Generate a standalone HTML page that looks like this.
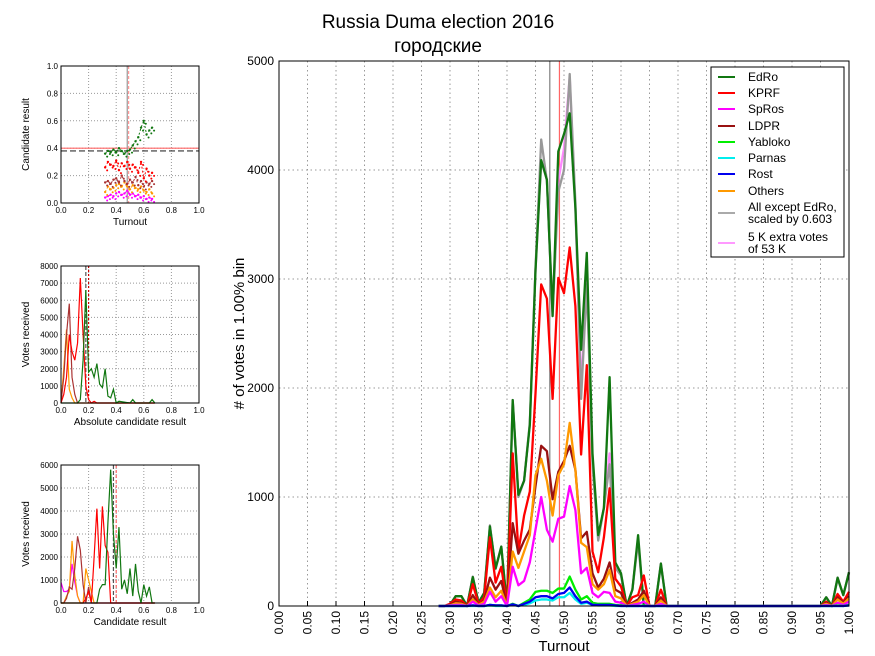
<!DOCTYPE html>
<html><head><meta charset="utf-8">
<style>
html,body{margin:0;padding:0;background:#fff;}
svg{display:block;font-family:"Liberation Sans","DejaVu Sans","Noto Sans CJK SC",sans-serif;}
</style></head>
<body>
<svg id="chart" width="875" height="656" viewBox="0 0 875 656" xmlns="http://www.w3.org/2000/svg">
<text x="438" y="28" font-size="19" text-anchor="middle">Russia Duma election 2016</text>
<text x="438" y="52" font-size="19" text-anchor="middle">городские</text>
<g id="main"></g>
<g id="s1"></g>
<g id="s2"></g>
<g id="s3"></g>
</svg>
<script>
// ---- main chart data ----
const turnout = [0.28,0.29,0.30,0.31,0.32,0.33,0.34,0.35,0.36,0.37,0.38,0.39,0.40,0.41,0.42,0.43,0.44,0.45,0.46,0.47,0.48,0.49,0.50,0.51,0.52,0.53,0.54,0.55,0.56,0.57,0.58,0.59,0.60,0.61,0.62,0.63,0.64,0.65,0.66,0.67,0.68,0.69,0.94,0.95,0.96,0.97,0.98,0.99,1.00];
const edro   = [0,0,10,90,90,0,265,30,120,730,345,545,0,1890,1020,1150,1660,3080,4090,3910,2660,4170,4330,4520,3650,2350,3240,1400,650,900,2100,400,300,0,150,650,0,0,0,390,0,0,0,0,80,0,260,100,310];
const kprf   = [0,0,20,60,50,0,200,20,80,630,215,360,0,1400,500,830,1050,1950,2950,2820,1900,3010,2870,3290,2750,1390,2210,500,310,630,1080,250,180,0,80,100,280,0,0,150,0,0,0,0,40,0,110,40,130];
const spros  = [0,0,5,10,10,0,40,5,20,130,40,90,0,360,190,230,400,700,1000,700,590,800,820,1100,880,300,350,120,80,130,120,40,30,0,10,20,40,0,0,20,0,0,0,0,10,0,30,10,40];
const ldpr   = [0,0,10,40,30,0,100,10,50,260,150,230,0,760,480,600,700,1100,1470,1420,980,1230,1330,1470,1250,620,680,300,170,250,400,150,120,0,30,60,140,0,0,80,0,0,0,0,30,0,80,30,90];
const yabloko= [0,0,0,0,0,0,5,0,0,10,5,5,0,20,0,30,60,130,140,140,120,160,160,270,150,60,90,30,20,20,20,10,5,0,0,0,5,0,0,0,0,0,0,0,0,0,5,0,10];
const parnas = [0,0,0,0,0,0,0,0,0,5,0,0,0,10,0,10,25,50,60,60,50,80,80,120,60,20,30,10,5,5,5,0,0,0,0,0,0,0,0,0,0,0,0,0,0,0,0,0,5];
const rost   = [0,0,0,0,0,0,5,0,0,10,5,5,0,15,0,20,40,80,90,90,70,110,120,170,90,30,40,10,10,10,10,5,0,0,0,0,0,0,0,0,0,0,0,0,0,0,0,0,5];
const others = [0,0,5,25,20,0,60,10,40,170,80,140,0,500,350,500,650,1200,1350,1150,830,1200,1300,1680,1250,580,540,200,150,200,330,90,70,0,20,40,100,0,0,50,0,0,0,0,20,0,60,20,70];
const allExcept = [0,0,10,90,90,0,270,30,120,740,340,540,0,1880,1000,1150,1680,3100,4280,3900,2700,3800,4000,4880,3700,1900,2950,1300,600,900,1300,350,280,0,150,600,0,0,0,380,0,0,0,0,80,0,250,100,300];
const extra  = [0,0,10,90,90,0,265,30,120,730,345,545,0,1890,1020,1150,1660,3080,4090,3910,2660,3900,4200,4850,3650,2000,3000,1350,620,900,1400,380,290,0,150,620,0,0,0,390,0,0,0,0,80,0,260,100,310];
const yTicks = [0,1000,2000,3000,4000,5000];
const xTicks = ["0.00","0.05","0.10","0.15","0.20","0.25","0.30","0.35","0.40","0.45","0.50","0.55","0.60","0.65","0.70","0.75","0.80","0.85","0.90","0.95","1.00"];
const vlineGrey = 0.475, vlineRed = 0.492;

// ---- subplot data ----
const s1x = [0.32,0.34,0.36,0.38,0.40,0.42,0.44,0.46,0.48,0.50,0.52,0.54,0.56,0.58,0.60,0.62,0.64,0.66];
const s1Green = [0.36,0.38,0.37,0.39,0.37,0.40,0.38,0.36,0.38,0.39,0.42,0.45,0.48,0.55,0.60,0.50,0.53,0.55];
const s1Red   = [0.26,0.30,0.28,0.27,0.31,0.24,0.29,0.27,0.30,0.25,0.28,0.26,0.22,0.30,0.18,0.25,0.20,0.22];
const s1Brown = [0.15,0.16,0.14,0.17,0.18,0.15,0.20,0.16,0.14,0.17,0.15,0.19,0.13,0.16,0.12,0.15,0.14,0.16];
const s1Orange= [0.08,0.12,0.10,0.11,0.13,0.14,0.12,0.15,0.12,0.10,0.13,0.11,0.10,0.12,0.09,0.08,0.10,0.07];
const s1Mag   = [0.04,0.05,0.06,0.05,0.07,0.08,0.06,0.07,0.09,0.06,0.07,0.05,0.06,0.04,0.05,0.03,0.04,0.03];
const s2x = [0.00,0.02,0.04,0.06,0.08,0.10,0.12,0.14,0.16,0.18,0.20,0.22,0.24,0.26,0.28,0.30,0.32,0.34,0.36,0.38,0.40,0.42,0.50,0.52,0.54,0.64,0.66,0.68];
const s2Green = [0,0,0,0,0,0,0,200,2500,6600,1800,2000,1500,2300,1100,900,2000,400,300,800,0,100,0,200,0,0,200,0];
const s2Red   = [0,500,1500,4000,3000,2500,3500,7300,4000,1000,200,0,100,0,0,0,0,0,0,0,0,0,0,0,0,0,0,0];
const s2Brown = [0,1500,4000,5800,1500,500,0,0,0,0,0,0,0,0,0,0,0,0,0,0,0,0,0,0,0,0,0,0];
const s2Orange= [0,2000,4300,800,300,0,0,0,0,0,0,0,0,0,0,0,0,0,0,0,0,0,0,0,0,0,0,0];
const s3x = [0.00,0.02,0.04,0.06,0.08,0.10,0.12,0.14,0.16,0.18,0.20,0.22,0.24,0.26,0.28,0.30,0.32,0.34,0.36,0.38,0.40,0.42,0.44,0.46,0.48,0.50,0.52,0.54,0.56,0.58,0.60,0.62,0.64,0.66,0.68];
const s3Green = [0,0,0,0,0,0,0,0,0,0,0,0,0,0,600,800,800,3500,5800,3000,1500,3300,600,1000,400,1500,300,1700,500,0,800,300,700,0,0];
const s3Red   = [0,0,0,0,0,0,0,0,0,200,500,0,2000,4100,1500,4200,2500,2200,0,0,0,0,0,0,0,0,0,0,0,0,0,0,0,0,0];
const s3Brown = [0,0,200,700,600,1500,2900,2300,800,0,700,0,0,0,0,0,0,0,0,0,0,0,0,0,0,0,0,0,0,0,0,0,0,0,0];
const s3Orange= [0,0,300,500,2700,1200,300,0,0,1500,1000,500,0,0,0,0,0,0,0,0,0,0,0,0,0,0,0,0,0,0,0,0,0,0,0];
const s3Mag   = [900,500,500,600,1700,900,300,0,0,0,0,0,0,0,0,0,0,0,0,0,0,0,0,0,0,0,0,0,0,0,0,0,0,0,0];

const NS = "http://www.w3.org/2000/svg";
function mk(parent, tag, attrs){ const e=document.createElementNS(NS,tag); for(const k in attrs) e.setAttribute(k,attrs[k]); parent.appendChild(e); return e; }

// ---- main chart ----
const main = document.getElementById('main');
const L=279,R=849,T=61,B=606;
const sx = v => L + v*(R-L);
const sy = v => B - v/5000*(B-T);
mk(main,'rect',{x:L,y:T,width:R-L,height:B-T,fill:'#fff',stroke:'none'});
xTicks.forEach(t=>{
  const x=sx(parseFloat(t));
  const g=mk(main,'line',{x1:x,x2:x,y1:T,y2:B,stroke:'#999','stroke-dasharray':'1.5,3','stroke-width':1});
  
  
  const tk=mk(main,'line',{x1:x,x2:x,y1:B,y2:B-5,stroke:'#000'});
  
  
  const tx=mk(main,'text',{x:0,y:0,'font-size':12,'text-anchor':'end',transform:`translate(${x+4},${B+5}) rotate(-90)`});
  tx.textContent=t;
  
  
});
yTicks.forEach(v=>{
  const y=sy(v);
  const g=mk(main,'line',{x1:L,x2:R,y1:y,y2:y,stroke:'#999','stroke-dasharray':'1.5,3','stroke-width':1});
  
  
  const tx=mk(main,'text',{x:L-5,y:y+4,'font-size':12,'text-anchor':'end'});
  tx.textContent=v;
  
  
});
const vg=mk(main,'line',{x1:sx(vlineGrey),x2:sx(vlineGrey),y1:T,y2:B,stroke:'#999','stroke-width':1.5});


const vr=mk(main,'line',{x1:sx(vlineRed),x2:sx(vlineRed),y1:T,y2:B,stroke:'#f66','stroke-width':1.2});



const series=[
 ['extra-votes-line',extra,'#ff88ff'],
 ['all-except-edro-line',allExcept,'#999999'],
 ['edro-line',edro,'#117711'],
 ['kprf-line',kprf,'#ff0000'],
 ['ldpr-line',ldpr,'#991111'],
 ['others-line',others,'#ff9900'],
 ['spros-line',spros,'#ff00ff'],
 ['yabloko-line',yabloko,'#00ee00'],
 ['parnas-line',parnas,'#00eeee'],
 ['rost-line',rost,'#0000ee']
];
series.forEach(([n,d,c])=>{
  const p=mk(main,'polyline',{points:d.map((v,i)=>sx(turnout[i])+','+sy(v)).join(' '),fill:'none',stroke:c,'stroke-width':2.3,'stroke-linejoin':'round'});
  
  
});
mk(main,'rect',{x:L,y:T,width:R-L,height:B-T,fill:'none',stroke:'#000','stroke-width':1});
const yt=mk(main,'text',{x:0,y:0,'font-size':15,'text-anchor':'middle',transform:`translate(244,${(T+B)/2}) rotate(-90)`});
yt.textContent='# of votes in 1.00% bin';


const xt=mk(main,'text',{x:(L+R)/2,y:651,'font-size':15,'text-anchor':'middle'});
xt.textContent='Turnout';



// legend
const lg=mk(main,'g',{});


mk(lg,'rect',{x:711,y:67,width:133,height:190,fill:'#fff',stroke:'#000','stroke-width':1});
const entries=[['EdRo','#117711',[77]],['KPRF','#ff0000',[93]],['SpRos','#ff00ff',[109]],['LDPR','#991111',[126]],['Yabloko','#00ee00',[142]],['Parnas','#00eeee',[158]],['Rost','#0000ee',[174]],['Others','#ff9900',[191]],['All except EdRo,|scaled by 0.603','#aaaaaa',[213]],['5 K extra votes| of 53 K','#ff99ff',[243]]];
entries.forEach(([t,c,[y]])=>{
  const g=mk(lg,'g',{});
  
  
  const lines=t.split('|');
  const top = lines.length>1 ? y-6 : y;
  mk(g,'line',{x1:718,x2:735,y1:y,y2:y,stroke:c,'stroke-width':2});
  lines.forEach((s,i)=>{ const tx=mk(g,'text',{x:748,y:top+4+i*12,'font-size':12}); tx.textContent=s; });
});

// ---- subplots ----
function subplot(id, box, xmax, ymax, yticks, ylabel, xlabel, lines, vlines, hlines, dots){
  const g=document.getElementById(id);
  const [l,t,r,b]=box;
  const fx=v=>l+v/xmax*(r-l), fy=v=>b-v/ymax*(b-t);
  mk(g,'rect',{x:l,y:t,width:r-l,height:b-t,fill:'#fff'});
  [0,0.2,0.4,0.6,0.8,1.0].forEach(v=>{
    mk(g,'line',{x1:fx(v),x2:fx(v),y1:t,y2:b,stroke:'#999','stroke-dasharray':'1,2'});
    const tx=mk(g,'text',{x:fx(v),y:b+10,'font-size':8,'text-anchor':'middle'}); tx.textContent=v.toFixed(1);
    
    
  });
  yticks.forEach(v=>{
    mk(g,'line',{x1:l,x2:r,y1:fy(v),y2:fy(v),stroke:'#999','stroke-dasharray':'1,2'});
    const tx=mk(g,'text',{x:l-3,y:fy(v)+3,'font-size':8,'text-anchor':'end'}); tx.textContent=(ymax<=1?v.toFixed(1):v);
    
    
  });
  hlines.forEach(([v,c,d])=>mk(g,'line',{x1:l,x2:r,y1:fy(v),y2:fy(v),stroke:c,'stroke-width':1.2,'stroke-dasharray':d}));
  vlines.forEach(([v,c,d])=>mk(g,'line',{x1:fx(v),x2:fx(v),y1:t,y2:b,stroke:c,'stroke-width':1.2,'stroke-dasharray':d}));
  lines.forEach(([xs,d,c])=>{
    if(dots){
      d.forEach((v,i)=>{ mk(g,'circle',{cx:fx(xs[i]),cy:fy(v),r:1.2,fill:c}); mk(g,'circle',{cx:fx(xs[i])+2,cy:fy(v)+3,r:1,fill:c}); });
      mk(g,'polyline',{points:d.map((v,i)=>fx(xs[i])+','+fy(v)).join(' '),fill:'none',stroke:c,'stroke-width':1,'stroke-dasharray':'2,2'});
    } else {
      mk(g,'polyline',{points:d.map((v,i)=>fx(xs[i])+','+fy(v)).join(' '),fill:'none',stroke:c,'stroke-width':1.2});
    }
  });
  mk(g,'rect',{x:l,y:t,width:r-l,height:b-t,fill:'none',stroke:'#000'});
  const yl=mk(g,'text',{x:0,y:0,'font-size':10,'text-anchor':'middle',transform:`translate(${l-32},${(t+b)/2}) rotate(-90)`}); yl.textContent=ylabel;
  
  
  const xl=mk(g,'text',{x:(l+r)/2,y:b+22,'font-size':10,'text-anchor':'middle'}); xl.textContent=xlabel;
  
  
}
subplot('s1',[61,66,199,203],1,1,[0,0.2,0.4,0.6,0.8,1.0],'Candidate result','Turnout',
  [[s1x,s1Mag,'#ff00ff'],[s1x,s1Orange,'#ff9900'],[s1x,s1Brown,'#aa3333'],[s1x,s1Red,'#ff0000'],[s1x,s1Green,'#117711']],
  [[0.48,'#999',''],[0.49,'#f99','3,2']],[[0.38,'#333','6,3'],[0.40,'#f66','']],true);
subplot('s2',[61,266,199,403],1,8000,[0,1000,2000,3000,4000,5000,6000,7000,8000],'Votes received','Absolute candidate result',
  [[s2x,s2Orange,'#ff9900'],[s2x,s2Brown,'#aa3333'],[s2x,s2Red,'#ff0000'],[s2x,s2Green,'#117711']],
  [[0.18,'#555','4,2'],[0.20,'#c00','2,2']],[],false);
subplot('s3',[61,465,199,603],1,6000,[0,1000,2000,3000,4000,5000,6000],'Votes received','Candidate result',
  [[s3x,s3Mag,'#ff00ff'],[s3x,s3Orange,'#ff9900'],[s3x,s3Brown,'#aa3333'],[s3x,s3Red,'#ff0000'],[s3x,s3Green,'#117711']],
  [[0.38,'#555','4,2'],[0.40,'#f66','3,2']],[],false);
</script>
</body></html>
